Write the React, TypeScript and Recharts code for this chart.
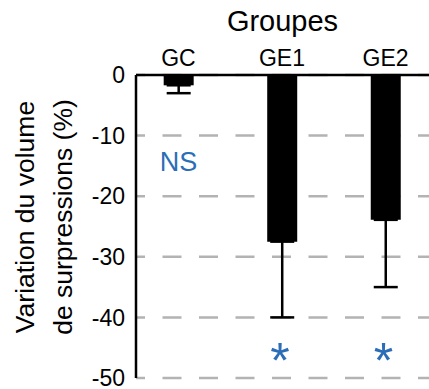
import React from 'react';
import { ComposedChart, Bar, ErrorBar, XAxis, YAxis, CartesianGrid, Scatter, Label } from 'recharts';

const groups = ['GC', 'GE1', 'GE2'];
const values = [-1.7, -27.5, -23.9];
const errLow = [1.3, 12.5, 11.1];
const yTicks = [0, -10, -20, -30, -40, -50];
const marks = ['NS', '*', '*'];
const markY = [-14.4, -45.3, -45.3];

const data = groups.map((g, i) => ({
  x: i,
  name: g,
  value: values[i],
  err: [errLow[i], 0],
  mark: marks[i],
  markY: markY[i],
}));

const FONT = '"Liberation Sans", Arial, sans-serif';
const BLUE = '#2c6db8';

const MarkShape = (props: any) => {
  const { cx, cy, payload } = props;
  if (payload.mark === '*') {
    return (
      <text x={cx - 2} y={cy} dy={0.57 * 50} textAnchor="middle" fontSize={50} fontFamily={FONT} fill={BLUE}>
        {payload.mark}
      </text>
    );
  }
  return (
    <text x={cx} y={cy} dominantBaseline="central" textAnchor="middle" fontSize={27} fontFamily={FONT} fill={BLUE}>
      {payload.mark}
    </text>
  );
};

const YLabel = (props: any) => {
  const vb = props.viewBox || { x: 0, y: 75, width: 136, height: 303 };
  const cy = vb.y + vb.height / 2 - 9.5;
  return (
    <text
      x={0}
      y={0}
      transform={`translate(${vb.x + 34}, ${cy}) rotate(-90)`}
      textAnchor="middle"
      fontSize={26.5}
      fontFamily={FONT}
      fill="#000"
    >
      <tspan x={0} dy={0}>Variation du volume</tspan>
      <tspan x={0} dy={38}>de surpressions (%)</tspan>
    </text>
  );
};

export default function App() {
  return (
    <div style={{ position: 'absolute', left: 0, top: 0, width: 429, height: 389, overflow: 'hidden', background: '#fff' }}>
      <ComposedChart width={429} height={389} data={data} margin={{ top: 0, right: 0, bottom: 11, left: 0 }}>
        <CartesianGrid
          vertical={false}
          stroke="#b3b3b3"
          strokeWidth={2.5}
          strokeDasharray="19 17.5"
          strokeDashoffset={10}
        />
        <XAxis
          dataKey="x"
          type="number"
          orientation="top"
          domain={[-0.41, 2.42]}
          allowDataOverflow
          ticks={[0, 1, 2]}
          interval={0}
          tickFormatter={(v: number) => groups[v] ?? ''}
          axisLine={{ stroke: '#000', strokeWidth: 2.5 }}
          tickLine={false}
          tickSize={0}
          tickMargin={9}
          tick={{ fill: '#000', fontSize: 23, fontFamily: FONT }}
          height={75}
        >
          <Label value="Groupes" position="insideTop" offset={10} fill="#000" fontSize={29} fontFamily={FONT} />
        </XAxis>
        <YAxis
          type="number"
          domain={[-50, 0]}
          ticks={yTicks}
          interval={0}
          width={136}
          axisLine={{ stroke: '#000', strokeWidth: 2.5 }}
          tickLine={false}
          tickSize={0}
          tickMargin={11}
          tick={{ fill: '#000', fontSize: 23, fontFamily: FONT }}
          label={<Label content={YLabel} />}
        />
        <Bar dataKey="value" fill="#000" barSize={30} isAnimationActive={false}>
          <ErrorBar dataKey="err" direction="y" width={12} stroke="#000" strokeWidth={2.5} isAnimationActive={false} />
        </Bar>
        <Scatter dataKey="markY" shape={MarkShape} isAnimationActive={false} />
      </ComposedChart>
    </div>
  );
}
